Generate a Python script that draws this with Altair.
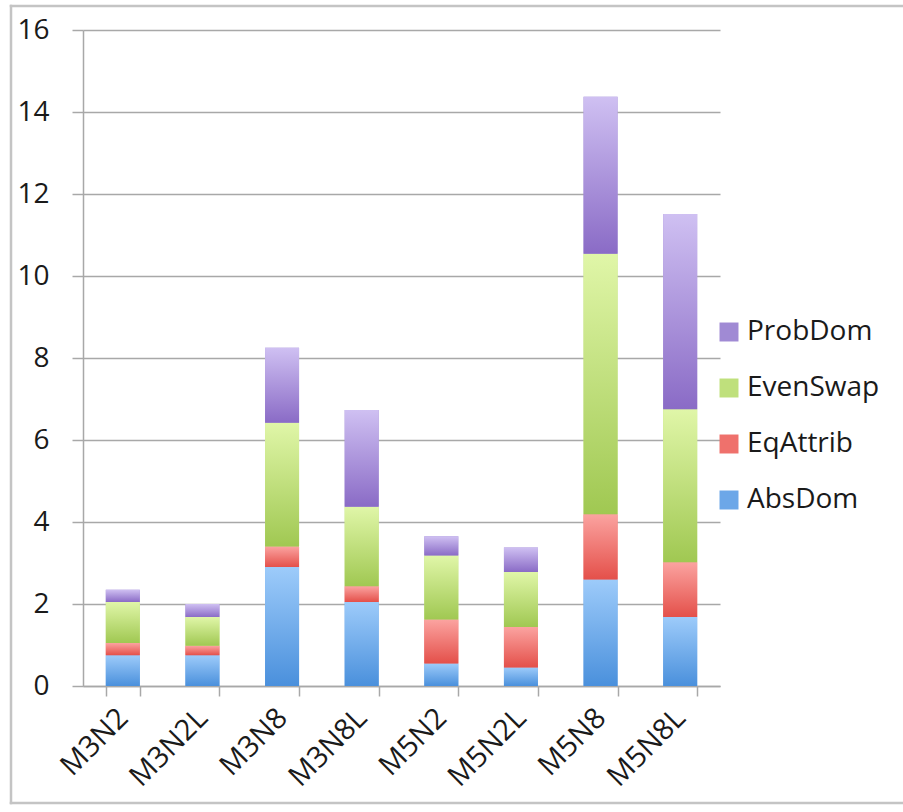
import altair as alt
import pandas as pd

# Categories and stacked component values
categories = ["M3N2", "M3N2L", "M3N8", "M3N8L", "M5N2", "M5N2L", "M5N8", "M5N8L"]
abs_dom = [0.75, 0.75, 2.90, 2.05, 0.55, 0.45, 2.60, 1.68]
eq_attrib = [0.30, 0.23, 0.50, 0.38, 1.07, 0.99, 1.59, 1.34]
even_swap = [1.00, 0.70, 3.02, 1.94, 1.56, 1.34, 6.35, 3.73]
prob_dom = [0.30, 0.32, 1.83, 2.36, 0.47, 0.60, 3.83, 4.76]

series_names = ["AbsDom", "EqAttrib", "EvenSwap", "ProbDom"]
series_values = [abs_dom, eq_attrib, even_swap, prob_dom]
y_ticks = [0, 2, 4, 6, 8, 10, 12, 14, 16]

# gradient (top, bottom) and flat legend colour for each series
grad = {
    "AbsDom": ("#9dcbfa", "#4a90dc"),
    "EqAttrib": ("#fba3a0", "#e4504a"),
    "EvenSwap": ("#e0f6a8", "#a0c852"),
    "ProbDom": ("#cfc0f2", "#8a6bc6"),
}
flat = {"ProbDom": "#a08ad4", "EvenSwap": "#bfe07c", "EqAttrib": "#ef716c", "AbsDom": "#6ca7e8"}
legend_order = ["ProbDom", "EvenSwap", "EqAttrib", "AbsDom"]

rows = []
for rank, (name, vals) in enumerate(zip(series_names, series_values)):
    for cat, v in zip(categories, vals):
        rows.append({"cat": cat, "series": name, "rank": rank, "value": v})
df = pd.DataFrame(rows)

FONT = "Open Sans"
TEXT = "#1a1a1a"
GRID = "#a8a8a8"
FRAME = "#c4c4c4"

W, H = 637, 656
PAD_L, PAD_T = 83, 30

base = alt.Chart(df).transform_stack(
    stack="value",
    groupby=["cat"],
    as_=["y0", "y1"],
    sort=[alt.SortField("rank", order="ascending")],
).encode(
    x=alt.X(
        "cat:N",
        sort=categories,
        scale=alt.Scale(paddingInner=0.573, paddingOuter=0.2865),
        axis=alt.Axis(
            title=None,
            labelAngle=-45,
            labelAlign="right",
            labelBaseline="middle",
            labelFont=FONT,
            labelFontSize=29,
            labelColor=TEXT,
            labelPadding=17,
            tickBand="extent",
            tickSize=10,
            tickColor=GRID,
            tickWidth=1.5,
            domainColor=GRID,
            domainWidth=1.5,
            grid=False,
        ),
    ),
    y=alt.Y(
        "y0:Q",
        scale=alt.Scale(domain=[0, 16], nice=False),
        axis=alt.Axis(
            title=None,
            values=y_ticks,
            labelFont=FONT,
            labelFontSize=28,
            labelColor=TEXT,
            labelPadding=23,
            tickSize=11,
            tickColor=GRID,
            tickWidth=1.5,
            domainColor=GRID,
            domainWidth=1.5,
            grid=True,
            gridColor=GRID,
            gridWidth=1.5,
        ),
    ),
    y2="y1:Q",
)

# flat bars carrying the legend
legend_layer = base.mark_bar().encode(
    fill=alt.Fill(
        "series:N",
        scale=alt.Scale(domain=legend_order, range=[flat[s] for s in legend_order]),
        legend=alt.Legend(
            title=None,
            orient="none",
            legendX=632,
            legendY=288,
            symbolType="square",
            symbolSize=360,
            symbolStrokeWidth=0,
            labelFont=FONT,
            labelFontSize=28,
            labelColor=TEXT,
            labelOffset=4,
            rowPadding=28,
        ),
    )
)

# gradient-filled segments drawn over the flat ones
grad_layers = []
for name in series_names:
    top, bottom = grad[name]
    g = {
        "gradient": "linear",
        "x1": 0, "x2": 0, "y1": 0, "y2": 1,
        "stops": [{"offset": 0, "color": top}, {"offset": 1, "color": bottom}],
    }
    grad_layers.append(
        base.mark_bar(color=g).transform_filter(alt.datum.series == name)
    )

# outer chart-area frame as thin filled strips: left, top and bottom (open to the right)
one = alt.Data(values=[{}])
strip = dict(color=FRAME, strokeWidth=0)
frame_left = alt.Chart(one).mark_rect(**strip).encode(
    x=alt.value(-73.25), x2=alt.value(-70.75), y=alt.value(-25.25), y2=alt.value(774.25)
)
frame_top = alt.Chart(one).mark_rect(**strip).encode(
    x=alt.value(-73.25), x2=alt.value(830), y=alt.value(-25.25), y2=alt.value(-22.75)
)
frame_bottom = alt.Chart(one).mark_rect(**strip).encode(
    x=alt.value(-73.25), x2=alt.value(830), y=alt.value(771.75), y2=alt.value(774.25)
)

chart = alt.layer(
    frame_left, frame_top, frame_bottom, legend_layer, *grad_layers
).properties(
    width=W,
    height=H,
    background="white",
    autosize=alt.AutoSizeParams(type="none"),
    padding={"left": PAD_L, "top": PAD_T, "right": 903 - PAD_L - W, "bottom": 812 - PAD_T - H},
).configure_view(strokeWidth=0, stroke="transparent")

chart.save("out.html", embed_options={"renderer": "svg", "actions": False})
